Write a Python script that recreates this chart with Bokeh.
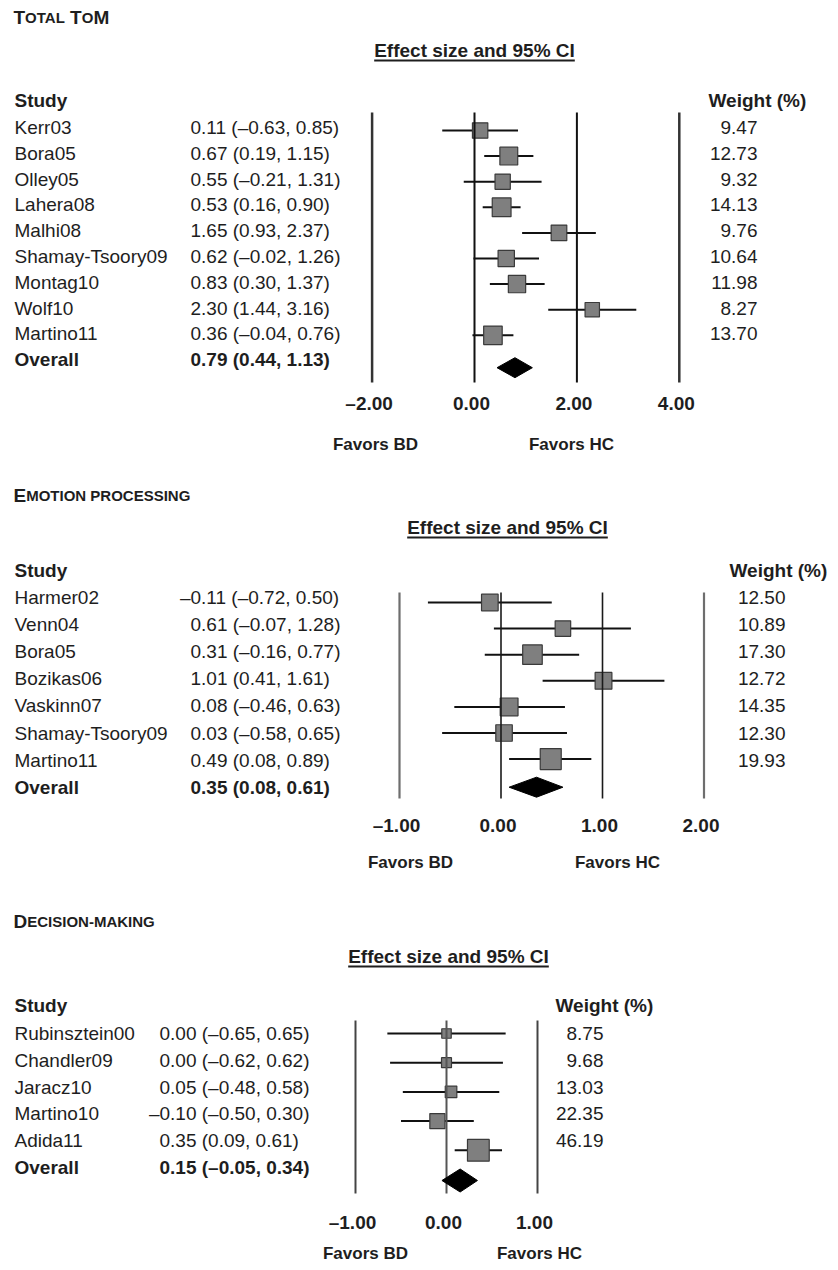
import math
from bokeh.plotting import figure
from bokeh.layouts import column
from bokeh.models import Range1d
from bokeh.embed import file_html
from bokeh.resources import INLINE
from bokeh.core.properties import value

# ---------------- data ----------------
tom_studies = ["Kerr03", "Bora05", "Olley05", "Lahera08", "Malhi08",
               "Shamay-Tsoory09", "Montag10", "Wolf10", "Martino11"]
tom_es = [0.11, 0.67, 0.55, 0.53, 1.65, 0.62, 0.83, 2.30, 0.36]
tom_lo = [-0.63, 0.19, -0.21, 0.16, 0.93, -0.02, 0.30, 1.44, -0.04]
tom_hi = [0.85, 1.15, 1.31, 0.90, 2.37, 1.26, 1.37, 3.16, 0.76]
tom_w = [9.47, 12.73, 9.32, 14.13, 9.76, 10.64, 11.98, 8.27, 13.70]
tom_overall = [0.79, 0.44, 1.13]
tom_ticks = [-2, 0, 2, 4]

emo_studies = ["Harmer02", "Venn04", "Bora05", "Bozikas06", "Vaskinn07",
               "Shamay-Tsoory09", "Martino11"]
emo_es = [-0.11, 0.61, 0.31, 1.01, 0.08, 0.03, 0.49]
emo_lo = [-0.72, -0.07, -0.16, 0.41, -0.46, -0.58, 0.08]
emo_hi = [0.50, 1.28, 0.77, 1.61, 0.63, 0.65, 0.89]
emo_w = [12.50, 10.89, 17.30, 12.72, 14.35, 12.30, 19.93]
emo_overall = [0.35, 0.08, 0.61]
emo_ticks = [-1, 0, 1, 2]

dec_studies = ["Rubinsztein00", "Chandler09", "Jaracz10", "Martino10", "Adida11"]
dec_es = [0.00, 0.00, 0.05, -0.10, 0.35]
dec_lo = [-0.65, -0.62, -0.48, -0.50, 0.09]
dec_hi = [0.65, 0.62, 0.58, 0.30, 0.61]
dec_w = [8.75, 9.68, 13.03, 22.35, 46.19]
dec_overall = [0.15, -0.05, 0.34]
dec_ticks = [-1, 0, 1]

tom_title = [("T", "big"), ("OTAL", "small"), (" ", "small"), ("T", "big"), ("O", "small"), ("M", "big")]
emo_title = [("E", "big"), ("MOTION PROCESSING", "small")]
dec_title = [("D", "big"), ("ECISION-MAKING", "small")]

# ---------------- styling / layout ----------------
FONT = value("Liberation Sans")
FS = 19
TXT = "#1e1e1e"
W = 830
# Arial/Liberation Sans Bold advance widths (1/1000 em)
BW = {" ": 278, "-": 333, "A": 722, "C": 722, "D": 722, "E": 667, "G": 778, "I": 278,
      "K": 722, "L": 611, "M": 833, "N": 722, "O": 778, "P": 667, "R": 722, "S": 667,
      "T": 611, "f": 333, "e": 556, "c": 556, "t": 333, "s": 556, "i": 278, "z": 500,
      "a": 556, "n": 611, "d": 611, "9": 556, "5": 556, "%": 889}


def bold_width(s, fs):
    return sum(BW.get(c, 556) for c in s) / 1000.0 * fs


def fmt(v):
    return f"{v:.2f}".replace("-", "\u2013")


def make_panel(spec, title, studies, es, lo, hi, w, overall, ticks):
    top, bottom = spec["top"], spec["bottom"]
    zero, ppu = spec["zero"], spec["ppu"]
    r0, rs = spec["row0"], spec["rstep"]

    def X(px):
        return (px - zero) / ppu

    def Y(py):
        return (py - r0) / rs

    p = figure(width=W, height=bottom - top, output_backend="svg", toolbar_location=None,
               x_range=Range1d(X(0), X(W)), y_range=Range1d(Y(bottom), Y(top)),
               x_axis_type=None, y_axis_type=None, min_border=0,
               outline_line_color=None, background_fill_color="white",
               border_fill_color="white")

    n = len(studies)
    rows = list(range(n))

    common = dict(text_font=FONT, text_color=TXT, text_baseline="middle")

    # title in small caps
    x = 13
    for s, kind in title:
        fs = 19 if kind == "big" else 15
        p.text(x=[X(x)], y=[Y(spec["title_y"])], text=[s], text_font_size=value(f"{fs}px"),
               text_font_style="bold", text_align="left", **common)
        x += bold_width(s, fs)

    # effect size header, underlined
    eh = "Effect size and 95% CI"
    ew = bold_width(eh, FS)
    p.text(x=[X(spec["eff_x"])], y=[Y(spec["eff_y"])], text=[eh], text_font_size=value(f"{FS}px"),
           text_font_style="bold", text_align="center", **common)
    p.segment(x0=[X(spec["eff_x"] - ew / 2)], x1=[X(spec["eff_x"] + ew / 2)],
              y0=[Y(spec["eff_y"] + 10)], y1=[Y(spec["eff_y"] + 10)],
              line_color=TXT, line_width=2)

    # column headers
    p.text(x=[X(14)], y=[Y(spec["hdr_y"])], text=["Study"], text_font_size=value(f"{FS}px"),
           text_font_style="bold", text_align="left", **common)
    p.text(x=[X(spec["wt_hdr_x"])], y=[Y(spec["hdr_y"])], text=["Weight (%)"],
           text_font_size=value(f"{FS}px"), text_font_style="bold", text_align="left", **common)

    # study names
    p.text(x=[X(14)] * n, y=rows, text=studies, text_font_size=value(f"{FS}px"),
           text_align="left", **common)
    p.text(x=[X(14)], y=[n], text=["Overall"], text_font_size=value(f"{FS}px"),
           text_font_style="bold", text_align="left", **common)

    # effect (CI) strings
    dash = 0.556 * FS
    vals = [f"{fmt(e)} ({fmt(l)}, {fmt(h)})" for e, l, h in zip(es, lo, hi)]
    vx = [X(spec["val_x"] - (dash if e < 0 else 0)) for e in es]
    p.text(x=vx, y=rows, text=vals, text_font_size=value(f"{FS}px"), text_align="left", **common)
    oe, ol, oh = overall
    p.text(x=[X(spec["val_x"] - (dash if oe < 0 else 0))], y=[n],
           text=[f"{fmt(oe)} ({fmt(ol)}, {fmt(oh)})"], text_font_size=value(f"{FS}px"),
           text_font_style="bold", text_align="left", **common)

    # weights
    p.text(x=[X(spec["wt_x"])] * n, y=rows, text=[f"{v:.2f}" for v in w],
           text_font_size=value(f"{FS}px"), text_align="right", **common)

    # forest marks
    my = [Y(spec["m0"] + spec["mstep"] * i) for i in rows]
    p.segment(x0=lo, x1=hi, y0=my, y1=my, line_color="#111111", line_width=2)
    p.scatter(x=es, y=my, marker="square", size=[spec["sq"] * math.sqrt(v) for v in w],
              fill_color="#7f7f7f", line_color="#3a3a3a", line_width=1.2)

    # reference lines
    p.segment(x0=ticks, x1=ticks, y0=[Y(spec["line_top"])] * len(ticks),
              y1=[Y(spec["line_bot"])] * len(ticks),
              line_color=spec["line_colors"], line_width=spec["line_widths"])

    # pooled diamond
    dy = n + spec["d_off"] / rs
    hh = spec["d_half"] / rs
    p.patches(xs=[[ol, oe, oh, oe]], ys=[[dy, dy - hh, dy, dy + hh]],
              fill_color="black", line_color="black", line_width=1)

    # tick labels
    p.text(x=[t - 3 / ppu for t in ticks], y=[Y(spec["tick_y"])] * len(ticks),
           text=[fmt(t) for t in ticks], text_font_size=value(f"{FS}px"),
           text_font_style="bold", text_align="center", **common)

    # favours labels
    p.text(x=[X(spec["fav_x"][0]), X(spec["fav_x"][1])], y=[Y(spec["fav_y"])] * 2,
           text=["Favors BD", "Favors HC"], text_font_size=value("17px"),
           text_font_style="bold", text_align="center", **common)
    return p


spec1 = dict(top=0, bottom=470, zero=474, ppu=51.2, row0=127, rstep=25.8, m0=130, mstep=25.6,
             d_off=8, d_half=10, line_top=112, line_bot=382, tick_y=403, fav_y=444,
             fav_x=(375, 571), eff_x=474, eff_y=50, title_y=17, hdr_y=100, val_x=190,
             wt_x=757, wt_hdr_x=708, sq=5.0,
             line_colors=["#333333", "#111111", "#111111", "#333333"],
             line_widths=[2.5, 2, 2, 2.5])
spec2 = dict(top=470, bottom=893, zero=500.5, ppu=101.5, row0=597, rstep=27.1, m0=602, mstep=26.1,
             d_off=0, d_half=10, line_top=592, line_bot=798, tick_y=825, fav_y=862,
             fav_x=(410, 617), eff_x=507, eff_y=527, title_y=495, hdr_y=570, val_x=190,
             wt_x=785, wt_hdr_x=729, sq=4.7,
             line_colors=["#6e6e6e", "#1a1a1a", "#1a1a1a", "#6e6e6e"],
             line_widths=[2.2, 1.6, 1.6, 2.2])
spec3 = dict(top=893, bottom=1262, zero=446, ppu=91, row0=1033, rstep=26.8, m0=1033, mstep=29.2,
             d_off=13, d_half=11.5, line_top=1020, line_bot=1193, tick_y=1222, fav_y=1253,
             fav_x=(365, 539), eff_x=448, eff_y=956, title_y=921, hdr_y=1005, val_x=159,
             wt_x=603, wt_hdr_x=555, sq=3.2,
             line_colors=["#444444", "#555555", "#444444"],
             line_widths=[2, 2, 2])

p1 = make_panel(spec1, tom_title, tom_studies, tom_es, tom_lo, tom_hi, tom_w, tom_overall, tom_ticks)
p2 = make_panel(spec2, emo_title, emo_studies, emo_es, emo_lo, emo_hi, emo_w, emo_overall, emo_ticks)
p3 = make_panel(spec3, dec_title, dec_studies, dec_es, dec_lo, dec_hi, dec_w, dec_overall, dec_ticks)

layout = column(p1, p2, p3, spacing=0)
open("out.html", "w").write(file_html(layout, INLINE, title="Forest plots"))
